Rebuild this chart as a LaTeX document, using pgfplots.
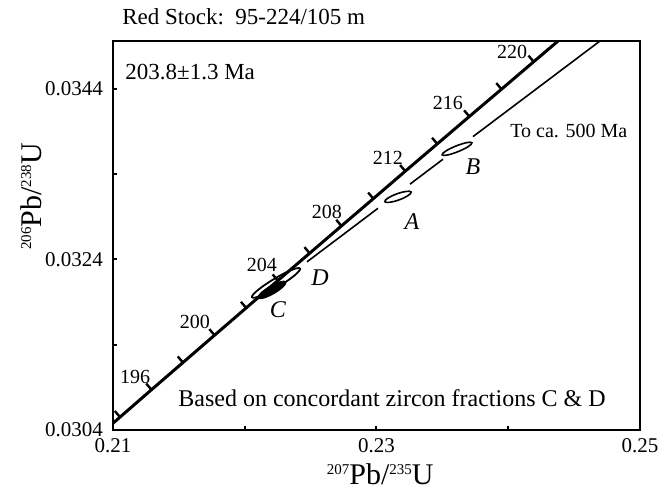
\documentclass[border=0pt]{standalone}
\usepackage{fontspec}
\setmainfont{Liberation Serif}
\usepackage{pgfplots}
\pgfplotsset{compat=1.18}
\newcommand\iso[1]{\raisebox{5.2bp}{\fontsize{7.5bp}{8bp}\selectfont #1}}
\pgfdeclareplotmark{ellA}{\pgfpathellipse{\pgfpointorigin}{\pgfpointpolar{20}{7bp}}{\pgfpointpolar{110}{1.6bp}}\pgfusepathqstroke}
\pgfdeclareplotmark{ellB}{\pgfpathellipse{\pgfpointorigin}{\pgfpointpolar{22}{8bp}}{\pgfpointpolar{112}{1.5bp}}\pgfusepathqstroke}
\pgfdeclareplotmark{ellD}{\pgfpathellipse{\pgfpointorigin}{\pgfpointpolar{31}{14bp}}{\pgfpointpolar{121}{2.2bp}}\pgfusepathqstroke}
\pgfdeclareplotmark{ellC}{\pgfpathellipse{\pgfpointorigin}{\pgfpointpolar{30}{8bp}}{\pgfpointpolar{120}{2bp}}\pgfusepathqfillstroke}
\begin{document}
\begin{tikzpicture}
\path[use as bounding box] (-56.5bp,-30.5bp) rectangle (275.5bp,215bp);
\begin{axis}[
  scale only axis, width=263.5bp, height=194.5bp,
  xmin=0.21, xmax=0.25, ymin=0.0304, ymax=0.03496,
  scaled ticks=false,
  clip mode=individual,
  axis line style={line width=1bp},
  tick pos=left, tick align=inside,
  major tick length=2bp,
  tick style={line width=1bp, black},
  xtick={0.21,0.22,0.23,0.24,0.25},
  xticklabels={0.21,,0.23,,0.25},
  ytick={0.0304,0.0314,0.0324,0.0334,0.0344},
  yticklabels={0.0304,,0.0324,,0.0344},
  ticklabel style={font=\fontsize{10.5bp}{12bp}\selectfont},
  yticklabel style={xshift=-1.5bp},
  xticklabel style={yshift=-0.5bp},
  xlabel={\iso{207}Pb/\iso{235}U},
  ylabel={\iso{206}Pb/\iso{238}U},
  label style={font=\fontsize{15bp}{18bp}\selectfont},
  xlabel style={at={(axis description cs:0.507,-0.141)}, anchor=base},
  ylabel style={at={(axis description cs:-0.155,0.60)}, anchor=center},
  title={Red Stock:\ \ 95-224/105 m},
  title style={at={(axis description cs:0.017,1.012)}, anchor=base west, yshift=0pt, inner xsep=0pt, font=\fontsize{11.5bp}{14bp}\selectfont},
]
% concordia curve (207Pb/235U, 206Pb/238U)
\addplot[black, line width=1.5bp] coordinates {
(0.208150,0.030232) (0.210533,0.030551) (0.212920,0.030872) (0.215311,0.031191)
(0.217708,0.031511) (0.220109,0.031831) (0.222513,0.032152) (0.224924,0.032472)
(0.227340,0.032792) (0.229760,0.033112) (0.232184,0.033434) (0.234614,0.033754)
(0.237048,0.034075) (0.239487,0.034395) (0.241931,0.034717) (0.244380,0.035038)
(0.246833,0.035359)};
% age ticks every 2 Ma (194-220)
\addplot[black, line width=1.2bp, quiver={u=-0.000395, v=0.0000716}] coordinates {
(0.210533,0.030551) (0.212920,0.030872) (0.215311,0.031191)
(0.217708,0.031511) (0.220109,0.031831) (0.222513,0.032152) (0.224924,0.032472)
(0.227340,0.032792) (0.229760,0.033112) (0.232184,0.033434) (0.234614,0.033754)
(0.237048,0.034075) (0.239487,0.034395) (0.241931,0.034717)};
% discordia segments (to ca. 500 Ma)
\addplot[black, line width=0.8bp] coordinates {(0.224725,0.032371) (0.230114,0.032999)};
\addplot[black, line width=0.8bp] coordinates {(0.232543,0.033282) (0.235047,0.033574)};
\addplot[black, line width=0.8bp] coordinates {(0.237324,0.033839) (0.246964,0.034960)};
% error ellipses
\addplot[black, only marks, mark=ellA, line width=0.8bp] coordinates {(0.231632,0.033133)};
\addplot[black, only marks, mark=ellB, line width=0.8bp] coordinates {(0.236110,0.033696)};
\addplot[black, only marks, mark=ellD, line width=0.9bp] coordinates {(0.222372,0.032124)};
\addplot[black, only marks, mark=ellC, line width=0.6bp, mark options={fill=black}] coordinates {(0.222068,0.032042)};
% age labels
\begin{scope}[every node/.style={font=\fontsize{10bp}{12bp}\selectfont}]
\node at (axis cs:0.211670,0.031022) {196};
\node at (axis cs:0.216224,0.031667) {200};
\node at (axis cs:0.221309,0.032335) {204};
\node at (axis cs:0.226243,0.032957) {208};
\node at (axis cs:0.230873,0.033591) {212};
\node at (axis cs:0.235427,0.034236) {216};
\node at (axis cs:0.240285,0.034834) {220};
\end{scope}
\begin{scope}[every node/.style={font=\fontsize{12bp}{14bp}\selectfont\itshape}]
\node at (axis cs:0.23269,0.032840) {A};
\node at (axis cs:0.23732,0.033485) {B};
\node at (axis cs:0.22252,0.031808) {C};
\node at (axis cs:0.22571,0.032183) {D};
\end{scope}
\node[anchor=base west, inner xsep=0pt, font=\fontsize{11.5bp}{14bp}\selectfont] at (axis cs:0.210911,0.034506) {203.8±1.3 Ma};
\node[anchor=base west, inner xsep=0pt, font=\fontsize{10bp}{12bp}\selectfont] at (axis cs:0.240133,0.033825) {To ca. 500 Ma};
\node[anchor=base west, inner xsep=0pt, font=\fontsize{12bp}{14bp}\selectfont] at (axis cs:0.214934,0.030670) {Based on concordant zircon fractions C \& D};
\end{axis}
\end{tikzpicture}
\end{document}
